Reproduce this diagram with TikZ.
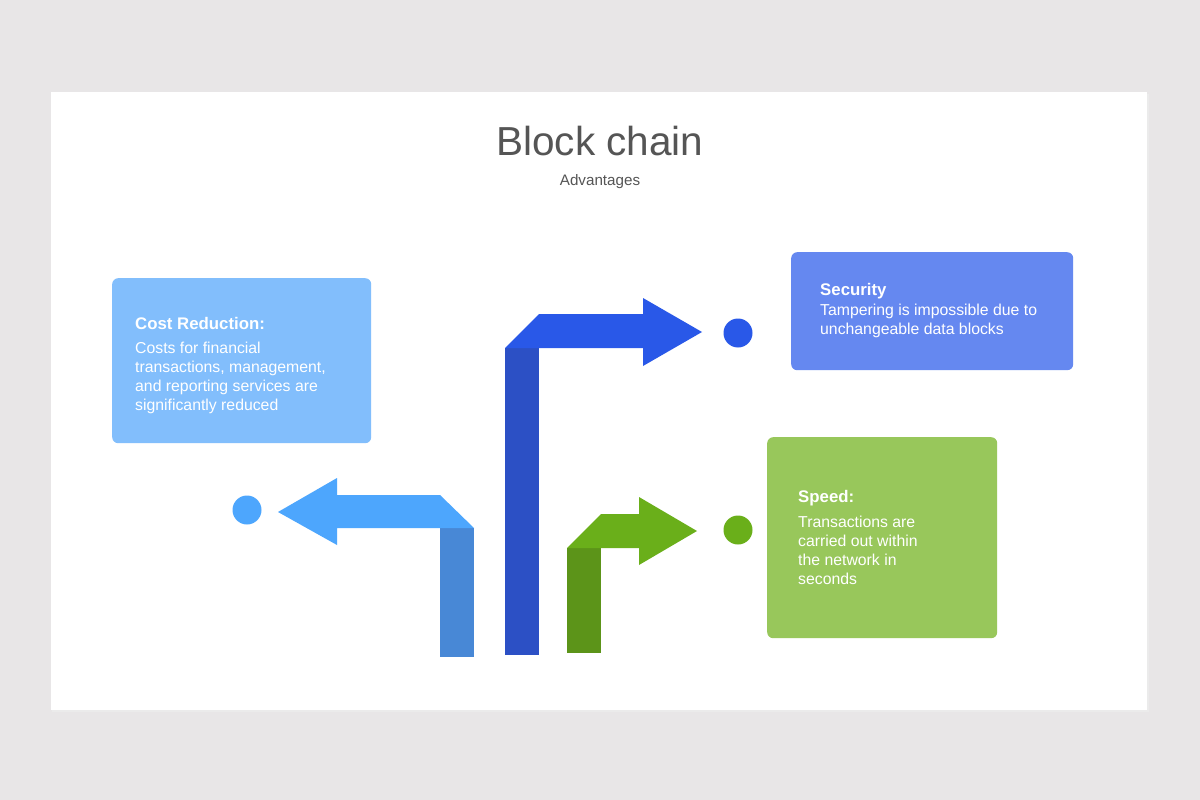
\documentclass[tikz,border=0pt]{standalone}
\usepackage{fontspec}
\setmainfont{Liberation Sans}
\definecolor{pagebg}{HTML}{E8E6E7}
\definecolor{titlegray}{HTML}{555555}
\definecolor{costbox}{HTML}{82BEFC}
\definecolor{secbox}{HTML}{6588F0}
\definecolor{speedbox}{HTML}{98C75B}
\definecolor{dbH}{HTML}{2958E8}
\definecolor{dbV}{HTML}{2C50C5}
\definecolor{grH}{HTML}{6AAF1A}
\definecolor{grV}{HTML}{5C9419}
\definecolor{lbH}{HTML}{4DA6FD}
\definecolor{lbV}{HTML}{4888D6}
\tikzset{
  infobox/.style={rounded corners=6pt, inner sep=0pt, anchor=north west},
  boxtitle/.style={anchor=base west, inner sep=0pt, text=white, font=\fontsize{16.8}{20}\selectfont\bfseries},
  boxbody/.style={anchor=north west, inner sep=0pt, text=white, align=left, font=\fontsize{15.8}{19}\selectfont},
  dotnode/.style={circle, minimum size=29pt, inner sep=0pt}
}
\begin{document}
\begin{tikzpicture}[x=1pt,y=-1pt]
\useasboundingbox (0,0) rectangle (1200,800);
\fill[pagebg] (0,0) rectangle (1200,800);
% card with soft shadow
\fill[black!8] (52,94) rectangle (1149,712);
\node[fill=white, minimum width=1096pt, minimum height=618pt, inner sep=0pt, anchor=north west] (card) at (51,92) {};
% title
\node[text=titlegray, font=\fontsize{40.5}{45}\selectfont] (title) at (600,141) {Block chain};
\node[text=titlegray, font=\fontsize{15.2}{17}\selectfont] (subtitle) at (600,182) {Advantages};
% boxes
\node[infobox, fill=costbox, minimum width=259pt, minimum height=165pt] (cost) at (112,278) {};
\node[infobox, fill=secbox, minimum width=282pt, minimum height=118pt] (sec) at (791,252) {};
\node[infobox, fill=speedbox, minimum width=230pt, minimum height=201pt] (speed) at (767,437) {};
% box texts
\node[boxtitle] (costT) at (135,329) {Cost Reduction:};
\node[boxbody] (costB) at (135,342) {Costs for financial\\transactions, management,\\and reporting services are\\significantly reduced};
\node[boxtitle] (secT) at (820,295) {Security};
\node[boxbody] (secB) at (820,304) {Tampering is impossible due to\\unchangeable data blocks};
\node[boxtitle] (speedT) at (798,502) {Speed:};
\node[boxbody] (speedB) at (798,516) {Transactions are\\carried out within\\the network in\\seconds};
% dark blue arrow
\fill[dbV] (505,348) rectangle (539,655);
\fill[dbH] (505,348) -- (539,314) -- (643,314) -- (643,298) -- (702,332) -- (643,366) -- (643,348) -- cycle;
% green arrow
\fill[grV] (567,548) rectangle (601,653);
\fill[grH] (567,548) -- (601,514) -- (639,514) -- (639,497) -- (697,531) -- (639,565) -- (639,548) -- cycle;
% light blue arrow
\fill[lbV] (440,528) rectangle (474,657);
\fill[lbH] (474,528) -- (440,495) -- (337,495) -- (337,478) -- (278,512) -- (337,545) -- (337,528) -- cycle;
% dots
\node[dotnode, fill=lbH] (dotL) at (247,510) {};
\node[dotnode, fill=dbH] (dotS) at (738,333) {};
\node[dotnode, fill=grH] (dotG) at (738,530) {};
\end{tikzpicture}
\end{document}
